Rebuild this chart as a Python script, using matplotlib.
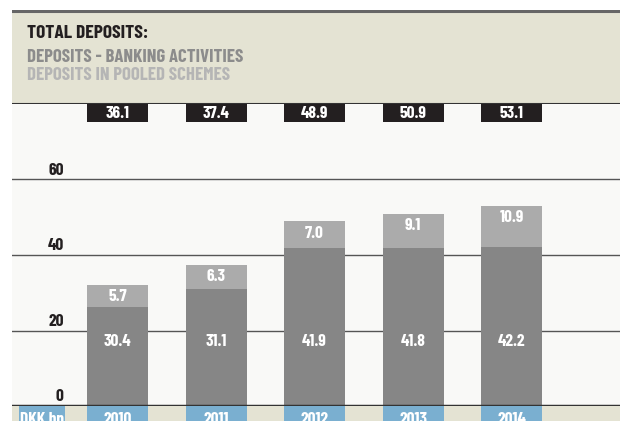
import numpy as np
import matplotlib
matplotlib.use('Agg')
import matplotlib.pyplot as plt

# data (DKK bn)
years = ['2010', '2011', '2012', '2013', '2014']
banking = [26.3, 31.1, 41.9, 41.8, 42.2]      # drawn heights
pooled = [5.7, 6.3, 7.0, 9.1, 10.9]
banking_labels = ['30.4', '31.1', '41.9', '41.8', '42.2']
pooled_labels = ['5.7', '6.3', '7.0', '9.1', '10.9']
total_labels = ['36.1', '37.4', '48.9', '50.9', '53.1']
yticks = [0, 20, 40, 60]

plt.rcParams['font.family'] = ['Barlow Condensed', 'Roboto Condensed', 'Asap Condensed', 'DejaVu Sans']
plt.rcParams['font.weight'] = 'bold'

beige = '#e4e3d3'
dark = '#231f20'
blue = '#7aafd0'
c_bank = '#868686'
c_pool = '#ababab'
lab_fs = 12.5

W, H = 620, 421
fig = plt.figure(figsize=(W / 100, H / 100), dpi=100)
fig.patch.set_facecolor('white')


def box(l, t, r, b):
    # pixel box -> figure fraction
    return [l / W, 1 - b / H, (r - l) / W, (b - t) / H]


x = np.arange(len(years))
xlim = (-1.071, 5.10)
bw = 0.62

# header
hax = fig.add_axes(box(12, 10, 620, 104))
hax.set_facecolor(beige)
hax.set_xlim(0, 608)
hax.set_ylim(94, 0)
hax.set_xticks([])
hax.set_yticks([])
for s in hax.spines.values():
    s.set_visible(False)
hax.axhline(0.5, color='#666666', lw=2.2)
hax.axhline(93.5, color='#333333', lw=1.5)
hax.text(15, 23.5, 'TOTAL DEPOSITS:', color=dark, fontsize=14, va='center')
hax.text(15, 48, 'DEPOSITS - BANKING ACTIVITIES', color='#8c8c8c', fontsize=13.5, va='center')
hax.text(15, 65, 'DEPOSITS IN POOLED SCHEMES', color='#b5b5b5', fontsize=13.5, va='center')

# main plot
ax = fig.add_axes(box(12, 104, 620, 406))
ax.set_facecolor('#f9f9f7')
ax.set_xlim(*xlim)
ax.set_ylim(0, 80)
for s in ax.spines.values():
    s.set_visible(False)
ax.set_xticks([])
ax.set_yticks([])
for v in yticks[1:]:
    ax.axhline(v, color='#555555', lw=1, zorder=1)
ax.axhline(0, color='#333333', lw=2.5, zorder=4)
for v in yticks:
    ax.text(-0.545, v + 0.5, str(v), ha='right', va='bottom', color=dark, fontsize=lab_fs)

ax.bar(x, banking, bw, color=c_bank, zorder=2)
ax.bar(x, pooled, bw, bottom=banking, color=c_pool, zorder=2)
ax.bar(x, 4.8, bw, bottom=75.2, color=dark, zorder=2)

for i in range(len(years)):
    top = banking[i] + pooled[i]
    ax.text(x[i], 17.0, banking_labels[i], ha='center', va='center', color='white', fontsize=lab_fs, zorder=3)
    ax.text(x[i], top - 3.1, pooled_labels[i], ha='center', va='center', color='white', fontsize=lab_fs, zorder=3)
    ax.text(x[i], 77.6, total_labels[i], ha='center', va='center', color='white', fontsize=lab_fs, zorder=3)

# bottom strip with years
bax = fig.add_axes(box(12, 406, 620, 421))
bax.set_facecolor(beige)
bax.set_xlim(*xlim)
bax.set_ylim(0, 15)
bax.set_xticks([])
bax.set_yticks([])
for s in bax.spines.values():
    s.set_visible(False)
bax.bar(x, 15, bw, color=blue)
bax.bar(-0.766, 15, 0.467, color=blue)
bax.text(-0.766, 9.5, 'DKK bn', ha='center', va='top', color='white', fontsize=lab_fs)
for i, yr in enumerate(years):
    bax.text(x[i], 9.5, yr, ha='center', va='top', color='white', fontsize=lab_fs)

fig.savefig('out.png', dpi=100)
